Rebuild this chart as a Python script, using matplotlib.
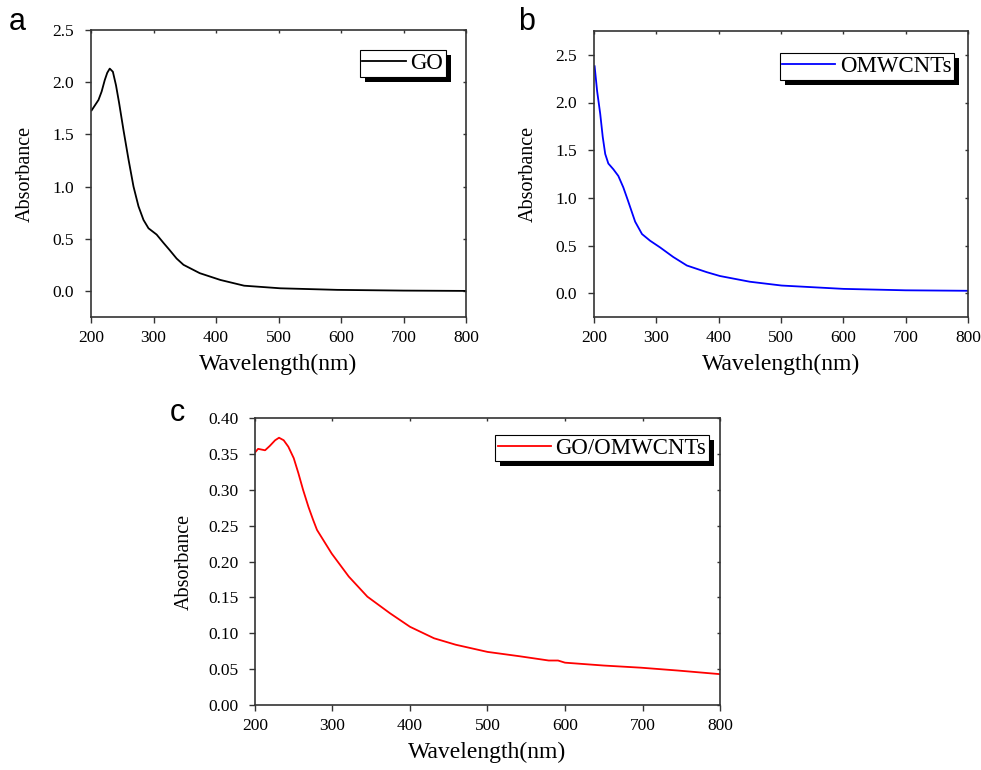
import matplotlib.pyplot as plt
import matplotlib.patheffects as pe
import matplotlib.lines as mlines

# GO spectrum
go_wl = [201, 212, 217, 222, 226, 230, 235, 240, 245, 252, 260, 268, 276, 284, 292,
         305, 316, 326, 337, 348, 374, 407, 445, 503, 594, 700, 800]
go_abs = [1.73, 1.83, 1.91, 2.02, 2.09, 2.13, 2.10, 1.97, 1.80, 1.54, 1.26, 1.00, 0.81,
          0.68, 0.60, 0.54, 0.46, 0.39, 0.31, 0.25, 0.17, 0.105, 0.05, 0.025, 0.01,
          0.003, 0.0]

# OMWCNTs spectrum
om_wl = [201, 205, 210, 214, 218, 223, 231, 239, 247, 254, 266, 277, 290, 306, 327,
         349, 381, 402, 450, 501, 600, 700, 800]
om_abs = [2.38, 2.12, 1.88, 1.64, 1.46, 1.36, 1.30, 1.23, 1.11, 0.98, 0.75, 0.62, 0.55,
          0.48, 0.38, 0.29, 0.22, 0.18, 0.12, 0.08, 0.045, 0.03, 0.025]

# GO/OMWCNTs spectrum
mix_wl = [200, 204, 213, 219, 226, 231, 237, 243, 250, 256, 262, 269, 275, 280, 299,
          321, 345, 374, 400, 431, 459, 500, 541, 579, 591, 600, 650, 698, 746, 800]
mix_abs = [0.352, 0.357, 0.355, 0.361, 0.369, 0.3725, 0.369, 0.360, 0.344, 0.323, 0.300,
           0.276, 0.258, 0.244, 0.211, 0.179, 0.151, 0.128, 0.109, 0.093, 0.084, 0.074,
           0.068, 0.062, 0.062, 0.059, 0.055, 0.052, 0.048, 0.043]

plt.rcParams['font.family'] = 'Liberation Serif'

fig = plt.figure(figsize=(9.81, 7.7), dpi=100)

ax_a = fig.add_axes([91/981, 1-317/770, 375/981, 287/770])
ax_b = fig.add_axes([594/981, 1-317/770, 374/981, 286/770])
ax_c = fig.add_axes([255/981, 1-705/770, 465/981, 287/770])


def style(ax, ylim, yticks, yfmt, ylabelpad, leg_anchor, handlelen):
    ax.set_xlim(200, 800)
    ax.set_ylim(*ylim)
    ax.set_xticks(range(200, 801, 100))
    ax.set_yticks(yticks)
    ax.set_yticklabels([yfmt.format(v) for v in yticks])
    for s in ax.spines.values():
        s.set_color('#333333')
        s.set_linewidth(1.2)
    ax.tick_params(axis='both', which='major', direction='out', length=4, width=1,
                   color='#333333', labelsize=12.5)
    ax.tick_params(axis='y', pad=8)
    ax.tick_params(axis='x', pad=5)
    ax.tick_params(top=True, right=True, labeltop=False, labelright=False)
    # top/right ticks short and pointing inward
    for tick in ax.xaxis.get_major_ticks():
        tick.tick2line.set_marker(mlines.TICKDOWN)
        tick.tick2line.set_markersize(2.5)
    for tick in ax.yaxis.get_major_ticks():
        tick.tick2line.set_marker(mlines.TICKLEFT)
        tick.tick2line.set_markersize(2.5)
    ax.set_xlabel('Wavelength(nm)', fontsize=17, labelpad=6)
    ax.set_ylabel('Absorbance', fontsize=14.5, labelpad=ylabelpad)
    leg = ax.legend(loc='upper right', bbox_to_anchor=leg_anchor, fontsize=16.5,
                    frameon=True, fancybox=False, edgecolor='black', framealpha=1,
                    borderaxespad=0, handlelength=handlelen, handletextpad=0.2,
                    borderpad=0.12)
    leg.get_frame().set_linewidth(0.8)
    leg.get_frame().set_path_effects([
        pe.SimplePatchShadow(offset=(3.6, -3.6), shadow_rgbFace='black', alpha=1),
        pe.Normal()])


ax_a.plot(go_wl, go_abs, color='black', lw=1.3, label='GO')
style(ax_a, (-0.25, 2.5), [0.0, 0.5, 1.0, 1.5, 2.0, 2.5], '{:.1f}', 13,
      (0.947, 0.930), 1.9)

ax_b.plot(om_wl, om_abs, color='blue', lw=1.3, label='OMWCNTs')
style(ax_b, (-0.25, 2.75), [0.0, 0.5, 1.0, 1.5, 2.0, 2.5], '{:.1f}', 13,
      (0.963, 0.923), 2.3)

ax_c.plot(mix_wl, mix_abs, color='red', lw=1.3, label='GO/OMWCNTs')
style(ax_c, (0, 0.40), [0.0, 0.05, 0.10, 0.15, 0.20, 0.25, 0.30, 0.35, 0.40], '{:.2f}', 10,
      (0.976, 0.941), 2.3)

fig.text(17/981, 1-22/770, 'a', family='Liberation Sans', fontsize=22, ha='center', va='center')
fig.text(527/981, 1-22/770, 'b', family='Liberation Sans', fontsize=22, ha='center', va='center')
fig.text(177/981, 1-413/770, 'c', family='Liberation Sans', fontsize=22, ha='center', va='center')

fig.savefig('out.png', dpi=100)
